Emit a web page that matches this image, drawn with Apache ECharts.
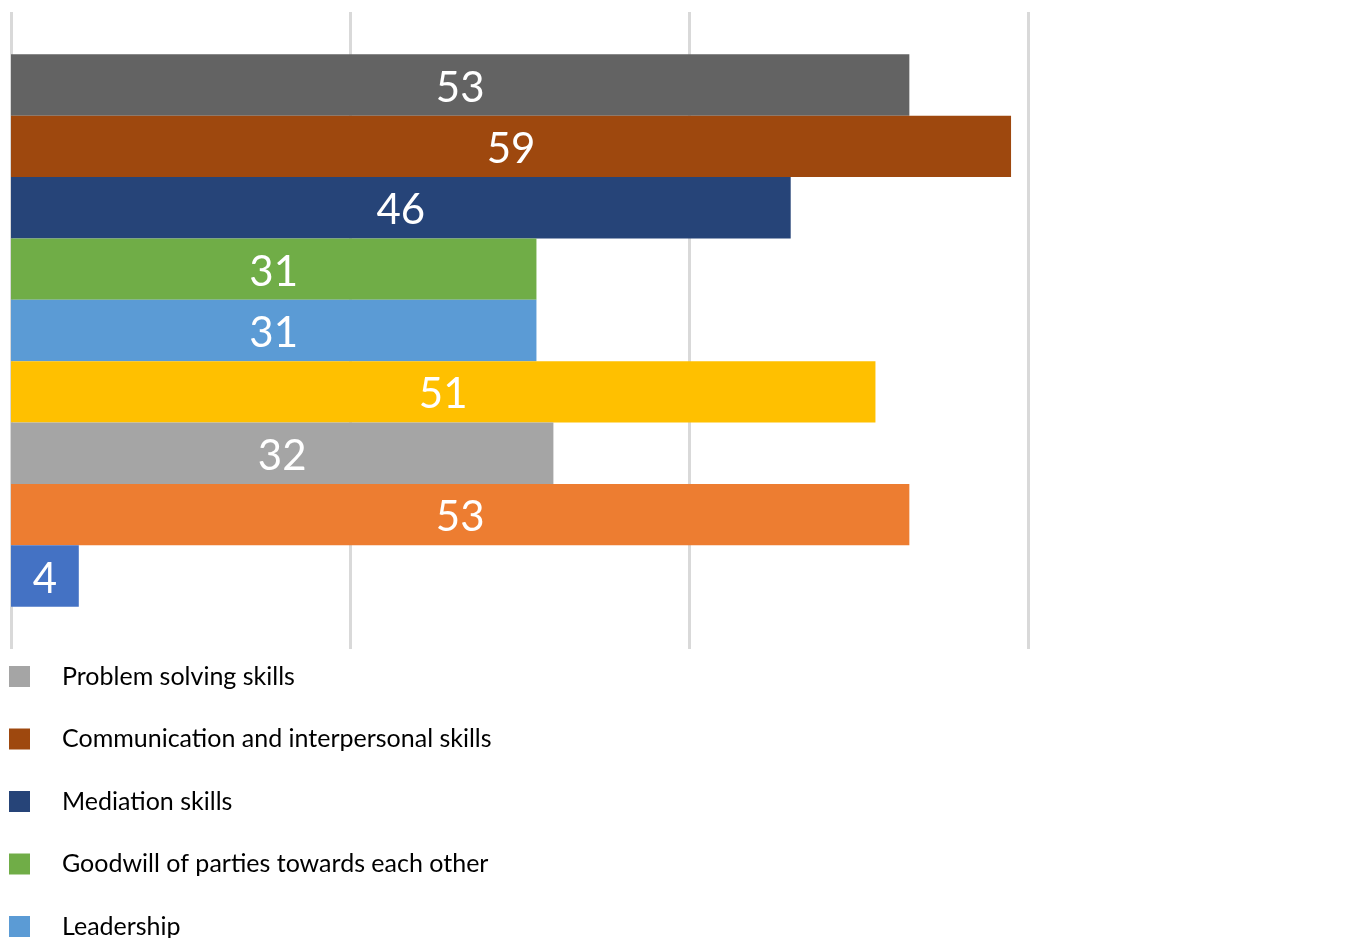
<!DOCTYPE html>
<html>
<head>
<meta charset="utf-8">
<title>Skills</title>
<script src="https://cdn.jsdelivr.net/npm/echarts@6/dist/echarts.min.js"></script>
<style>
  html, body { margin: 0; padding: 0; background: #fff; }
  #chart { width: 1359px; height: 938px; }
</style>
</head>
<body>
<div id="chart"></div>
<script>
// bars listed from top to bottom
var seriesNames = ['Problem solving skills', 'Communication and interpersonal skills', 'Mediation skills',
  'Goodwill of parties towards each other', 'Leadership', 'Series 6', 'Series 7', 'Series 8', 'Series 9'];
var seriesValues = [53, 59, 46, 31, 31, 51, 32, 53, 4];
var legendNames = ['Problem solving skills', 'Communication and interpersonal skills', 'Mediation skills',
  'Goodwill of parties towards each other', 'Leadership'];
var categories = [''];

var barColors = ['#636363', '#9E480E', '#264478', '#70AD47', '#5B9BD5', '#FFC000', '#A5A5A5', '#ED7D31', '#4472C4'];
var legendColors = ['#A5A5A5', '#9E480E', '#264478', '#70AD47', '#5B9BD5'];

var chart = echarts.init(document.getElementById('chart'));

var series = [];
for (var i = 0; i < seriesNames.length; i++) {
  series.push({
    name: seriesNames[i],
    type: 'bar',
    data: [seriesValues[i]],
    barGap: '0%',
    barCategoryGap: '13.3%',
    itemStyle: { color: barColors[i] },
    label: {
      show: true,
      position: 'inside',
      offset: [0, 3],
      color: '#fff',
      fontFamily: 'Lato',
      fontSize: 42
    },
    emphasis: { disabled: true }
  });
}

var legendData = [];
for (var j = 0; j < legendNames.length; j++) {
  legendData.push({ name: legendNames[j], itemStyle: { color: legendColors[j] } });
}

var option = {
  animation: false,
  grid: { left: 11, right: 331, top: 12, bottom: 289 },
  xAxis: {
    type: 'value',
    min: 0,
    max: 60,
    interval: 20,
    axisLabel: { show: false },
    axisLine: { show: false },
    axisTick: { show: false },
    splitLine: { lineStyle: { color: '#D9D9D9', width: 3 } }
  },
  yAxis: {
    type: 'category',
    inverse: true,
    data: categories,
    axisLine: { show: false },
    axisTick: { show: false },
    axisLabel: { show: false }
  },
  legend: {
    orient: 'vertical',
    left: 9,
    top: 664,
    height: 600,
    padding: 0,
    itemWidth: 21,
    itemHeight: 21,
    itemGap: 37.5,
    icon: 'rect',
    selectedMode: false,
    data: legendData,
    textStyle: {
      fontFamily: 'Lato',
      fontSize: 25,
      color: '#000',
      padding: [0, 0, 0, 27]
    }
  },
  series: series
};

chart.setOption(option);
</script>
</body>
</html>
